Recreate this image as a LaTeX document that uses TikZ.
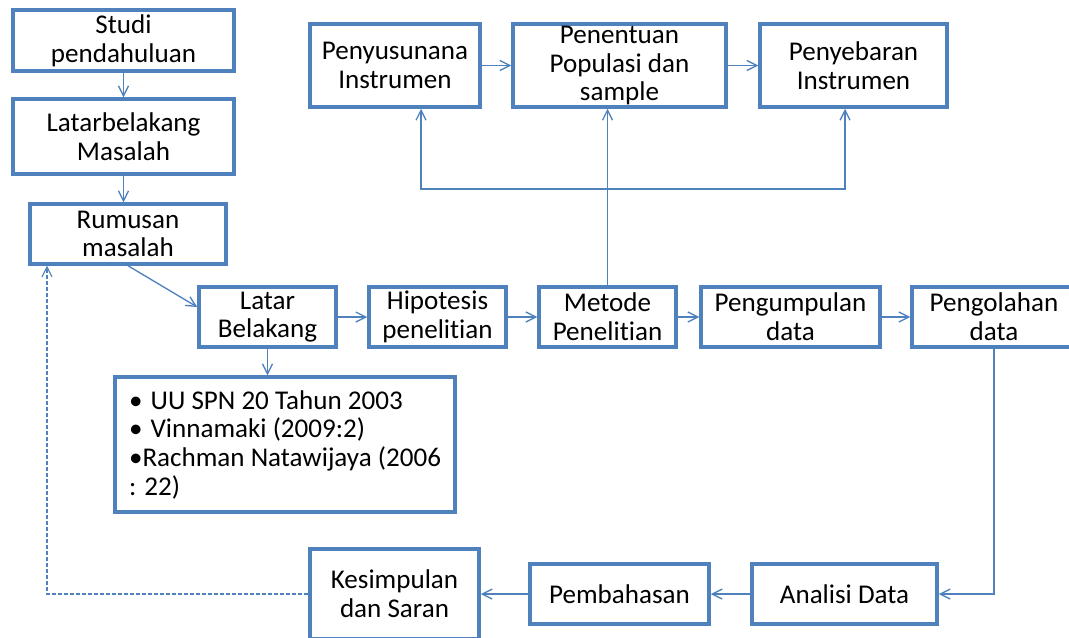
\documentclass[tikz,border=0pt]{standalone}
\usepackage{fontspec}
\setmainfont{Carlito}[RawFeature={-liga;-clig;-dlig}]
\usetikzlibrary{arrows.meta}
\definecolor{garisbiru}{HTML}{4F81BD}
\begin{document}
\begin{tikzpicture}[x=0.75pt,y=-0.75pt,>={Straight Barb[length=7.5pt,width=7.5pt]},
	kotak/.style={draw=garisbiru,line width=2.6pt,fill=white,align=center,inner sep=0pt,font=\fontsize{20.3}{21.5}\selectfont},
	ukuran/.style 2 args={minimum width=#1*0.75pt,minimum height=#2*0.75pt},
	panah/.style={->,draw=garisbiru,line width=1pt}]
	\useasboundingbox (0,0) rectangle (1069,637);
	\node[kotak,ukuran={221}{61}] (studi) at (123.5,40.5) {Studi\\pendahuluan};
	\node[kotak,ukuran={221}{75}] (latarmasalah) at (123.5,136.5) {Latarbelakang\\Masalah};
	\node[kotak,ukuran={196}{60}] (rumusan) at (128,234) {Rumusan\\masalah};
	\node[kotak,ukuran={137}{60}] (latar) at (267.5,317) {Latar\\Belakang};
	\node[kotak,ukuran={137}{60}] (hipotesis) at (437.5,317) {Hipotesis\\penelitian};
	\node[kotak,ukuran={137}{60}] (metode) at (607.5,317) {Metode\\Penelitian};
	\node[kotak,ukuran={179}{60}] (pengumpulan) at (790.5,317) {Pengumpulan\\data};
	\node[kotak,ukuran={164}{60}] (pengolahan) at (994,317) {Pengolahan\\data};
	\node[kotak,ukuran={170}{83}] (penyusunan) at (395,65.5) {Penyusunana\\Instrumen};
	\node[kotak,ukuran={213}{83}] (penentuan) at (619.5,65.5) {Penentuan\\Populasi dan\\sample};
	\node[kotak,ukuran={187}{83}] (penyebaran) at (853.5,65.5) {Penyebaran\\Instrumen};
	\node[kotak,ukuran={340}{135},align=left] (referensi) at (285,444.5)
		{•\hspace{0.3em}UU SPN 20 Tahun 2003\\•\hspace{0.3em}Vinnamaki (2009:2)\\•Rachman Natawijaya (2006\\: 22)};
	\node[kotak,ukuran={185}{60}] (analisis) at (844.5,594) {Analisi Data};
	\node[kotak,ukuran={179}{60}] (pembahasan) at (619.5,594) {Pembahasan};
	\node[kotak,ukuran={169}{90}] (kesimpulan) at (394.5,594) {Kesimpulan\\dan Saran};
	\coordinate (kiri) at (421,189);
	\coordinate (kanan) at (845,189);
	\coordinate (balik) at (47,594);
	\draw[panah] (studi) -- (latarmasalah);
	\draw[panah] (latarmasalah.south) -- (latarmasalah.south |- rumusan.north);
	\draw[panah] (rumusan.south) -- ([yshift=7.5pt]latar.west);
	\draw[panah] (latar.south) -- (latar.south |- referensi.north);
	\foreach \a/\b in {latar/hipotesis,hipotesis/metode,metode/pengumpulan,pengumpulan/pengolahan,penyusunan/penentuan,penentuan/penyebaran,analisis/pembahasan,pembahasan/kesimpulan}
		\draw[panah] (\a) -- (\b);
	\draw[panah] (metode.north) -- (metode.north |- penentuan.south);
	\draw[panah,<->] (kiri |- penyusunan.south) -- (kiri) -- (kanan) -- (kanan |- penyebaran.south);
	\draw[panah] (pengolahan.south) |- (analisis.east);
	\draw[panah,line width=0.8pt,dash pattern=on 3pt off 1.5pt] (kesimpulan.west) -- (balik) -- (balik |- rumusan.south);
\end{tikzpicture}
\end{document}
